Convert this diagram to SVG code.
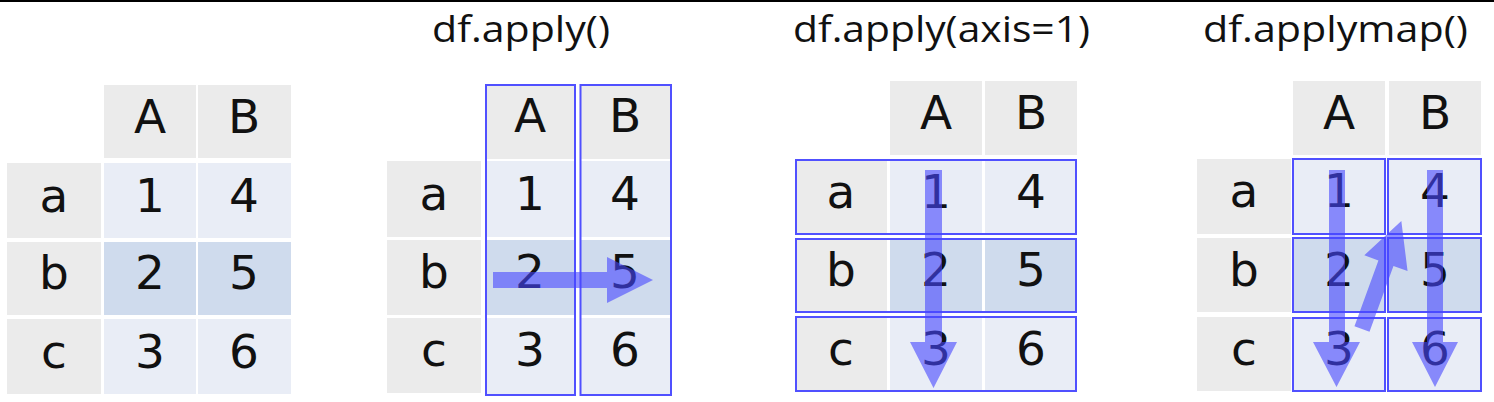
<svg xmlns="http://www.w3.org/2000/svg" width="1494" height="402" viewBox="0 0 1494 402">
<style>
.bg{fill:#ffffff}
.hd{fill:#ebebeb}
.cl{fill:#e9edf6}
.cb{fill:#cfdbed}
.t{font-family:"DejaVu Sans","Liberation Sans",sans-serif;font-size:47px;fill:#111;text-anchor:middle}
.ti{font-family:"Open Sans","DejaVu Sans",sans-serif;font-size:36px;fill:#111}
.sel{fill:none;stroke:#5050ff;stroke-width:2}
.arr{fill:#4646ff;fill-opacity:0.6}
</style>
<rect class="bg" x="0" y="0" width="1494" height="402"/>
<line x1="0" y1="1" x2="1494" y2="1" stroke="#000" stroke-width="2"/>

<g id="title-apply"><text class="ti" x="432" y="42" textLength="178" lengthAdjust="spacingAndGlyphs">df.apply()</text></g>
<g id="title-apply-axis1"><text class="ti" x="793" y="42" textLength="297" lengthAdjust="spacingAndGlyphs">df.apply(axis=1)</text></g>
<g id="title-applymap"><text class="ti" x="1203" y="42" textLength="265" lengthAdjust="spacingAndGlyphs">df.applymap()</text></g>

<!-- Table 1 -->
<g id="table1">
<rect class="hd" x="104" y="85" width="92" height="73"/>
<rect class="hd" x="198" y="85" width="93" height="73"/>
<rect class="hd" x="7" y="163" width="94" height="75"/>
<rect class="hd" x="7" y="242" width="94" height="73"/>
<rect class="hd" x="7" y="319" width="94" height="75"/>
<rect class="cl" x="104" y="163" width="92" height="75"/>
<rect class="cl" x="198" y="163" width="93" height="75"/>
<rect class="cb" x="104" y="242" width="92" height="73"/>
<rect class="cb" x="198" y="242" width="93" height="73"/>
<rect class="cl" x="104" y="319" width="92" height="75"/>
<rect class="cl" x="198" y="319" width="93" height="75"/>
<text class="t" x="150" y="133">A</text>
<text class="t" x="244" y="133">B</text>
<text class="t" x="54" y="212">a</text>
<text class="t" x="54" y="289">b</text>
<text class="t" x="54" y="368">c</text>
<text class="t" x="150" y="212">1</text>
<text class="t" x="244" y="212">4</text>
<text class="t" x="150" y="289">2</text>
<text class="t" x="244" y="289">5</text>
<text class="t" x="150" y="368">3</text>
<text class="t" x="244" y="368">6</text>
</g>

<!-- Table 2 -->
<g id="table2">
<rect class="hd" x="485" y="85" width="91" height="74"/>
<rect class="hd" x="580" y="85" width="91" height="74"/>
<rect class="hd" x="387" y="161" width="94" height="76"/>
<rect class="hd" x="387" y="240" width="94" height="75"/>
<rect class="hd" x="387" y="318" width="94" height="75"/>
<rect class="cl" x="485" y="161" width="91" height="76"/>
<rect class="cl" x="580" y="161" width="91" height="76"/>
<rect class="cb" x="485" y="240" width="91" height="75"/>
<rect class="cb" x="580" y="240" width="91" height="75"/>
<rect class="cl" x="485" y="318" width="91" height="76"/>
<rect class="cl" x="580" y="318" width="91" height="76"/>
<text class="t" x="530" y="132">A</text>
<text class="t" x="625" y="132">B</text>
<text class="t" x="434" y="210">a</text>
<text class="t" x="434" y="288">b</text>
<text class="t" x="434" y="366">c</text>
<text class="t" x="530" y="210">1</text>
<text class="t" x="625" y="210">4</text>
<text class="t" x="530" y="288">2</text>
<text class="t" x="625" y="288">5</text>
<text class="t" x="530" y="366">3</text>
<text class="t" x="625" y="366">6</text>
<rect id="sel-colA" class="sel" x="486" y="85" width="89" height="310"/>
<rect id="sel-colB" class="sel" x="580.5" y="85" width="90.5" height="310"/>
</g>

<!-- Table 3 -->
<g id="table3">
<rect class="hd" x="890" y="81" width="92" height="74"/>
<rect class="hd" x="985" y="81" width="92" height="74"/>
<rect class="hd" x="796" y="160" width="91" height="74"/>
<rect class="hd" x="796" y="239" width="91" height="73"/>
<rect class="hd" x="796" y="317" width="91" height="74"/>
<rect class="cl" x="890" y="160" width="92" height="74"/>
<rect class="cl" x="985" y="160" width="92" height="74"/>
<rect class="cb" x="890" y="239" width="92" height="73"/>
<rect class="cb" x="985" y="239" width="92" height="73"/>
<rect class="cl" x="890" y="317" width="92" height="74"/>
<rect class="cl" x="985" y="317" width="92" height="74"/>
<text class="t" x="936" y="129">A</text>
<text class="t" x="1031" y="129">B</text>
<text class="t" x="841" y="208">a</text>
<text class="t" x="841" y="286">b</text>
<text class="t" x="841" y="365">c</text>
<text class="t" x="936" y="208">1</text>
<text class="t" x="1031" y="208">4</text>
<text class="t" x="936" y="286">2</text>
<text class="t" x="1031" y="286">5</text>
<text class="t" x="936" y="365">3</text>
<text class="t" x="1031" y="365">6</text>
<rect id="sel-row-a" class="sel" x="796" y="160" width="280" height="74"/>
<rect id="sel-row-b" class="sel" x="796" y="239" width="280" height="73"/>
<rect id="sel-row-c" class="sel" x="796" y="317" width="280" height="74"/>
</g>

<!-- Table 4 -->
<g id="table4">
<rect class="hd" x="1293" y="81" width="92" height="74"/>
<rect class="hd" x="1389" y="81" width="92" height="74"/>
<rect class="hd" x="1197" y="159" width="94" height="75"/>
<rect class="hd" x="1197" y="238" width="94" height="74"/>
<rect class="hd" x="1197" y="317" width="94" height="74"/>
<rect class="cl" x="1293" y="159" width="92" height="75"/>
<rect class="cl" x="1389" y="159" width="92" height="75"/>
<rect class="cb" x="1293" y="238" width="92" height="74"/>
<rect class="cb" x="1389" y="238" width="92" height="74"/>
<rect class="cl" x="1293" y="317" width="92" height="74"/>
<rect class="cl" x="1389" y="317" width="92" height="74"/>
<text class="t" x="1339" y="129">A</text>
<text class="t" x="1435" y="129">B</text>
<text class="t" x="1244" y="207">a</text>
<text class="t" x="1244" y="286">b</text>
<text class="t" x="1244" y="365">c</text>
<text class="t" x="1339" y="207">1</text>
<text class="t" x="1435" y="207">4</text>
<text class="t" x="1339" y="286">2</text>
<text class="t" x="1435" y="286">5</text>
<text class="t" x="1339" y="365">3</text>
<text class="t" x="1435" y="365">6</text>
<rect class="sel" x="1293" y="159" width="92" height="75"/>
<rect class="sel" x="1388" y="159" width="93" height="75"/>
<rect class="sel" x="1293" y="238" width="92" height="74"/>
<rect class="sel" x="1388" y="238" width="93" height="74"/>
<rect class="sel" x="1293" y="318" width="92" height="73"/>
<rect class="sel" x="1388" y="318" width="93" height="73"/>
</g>

<g id="connectors">
<path class="arr" d="M493,272 H607 V257 L653,280 L607,303 V288 H493 Z"/>
<path class="arr" d="M925,170 H942 V342 H957 L933.5,388 L910,342 H925 Z"/>
<path class="arr" d="M1329,170 H1345 V342 H1360 L1336.5,387 L1313,342 H1329 Z"/>
<path class="arr" d="M1427,170 H1443 V342 H1458 L1435,387 L1412,342 H1427 Z"/>
<path class="arr" transform="translate(1362,329) rotate(-70)" d="M0,-8 H70 V-23 L115,0 L70,23 V8 H0 Z"/>
</g>
</svg>
